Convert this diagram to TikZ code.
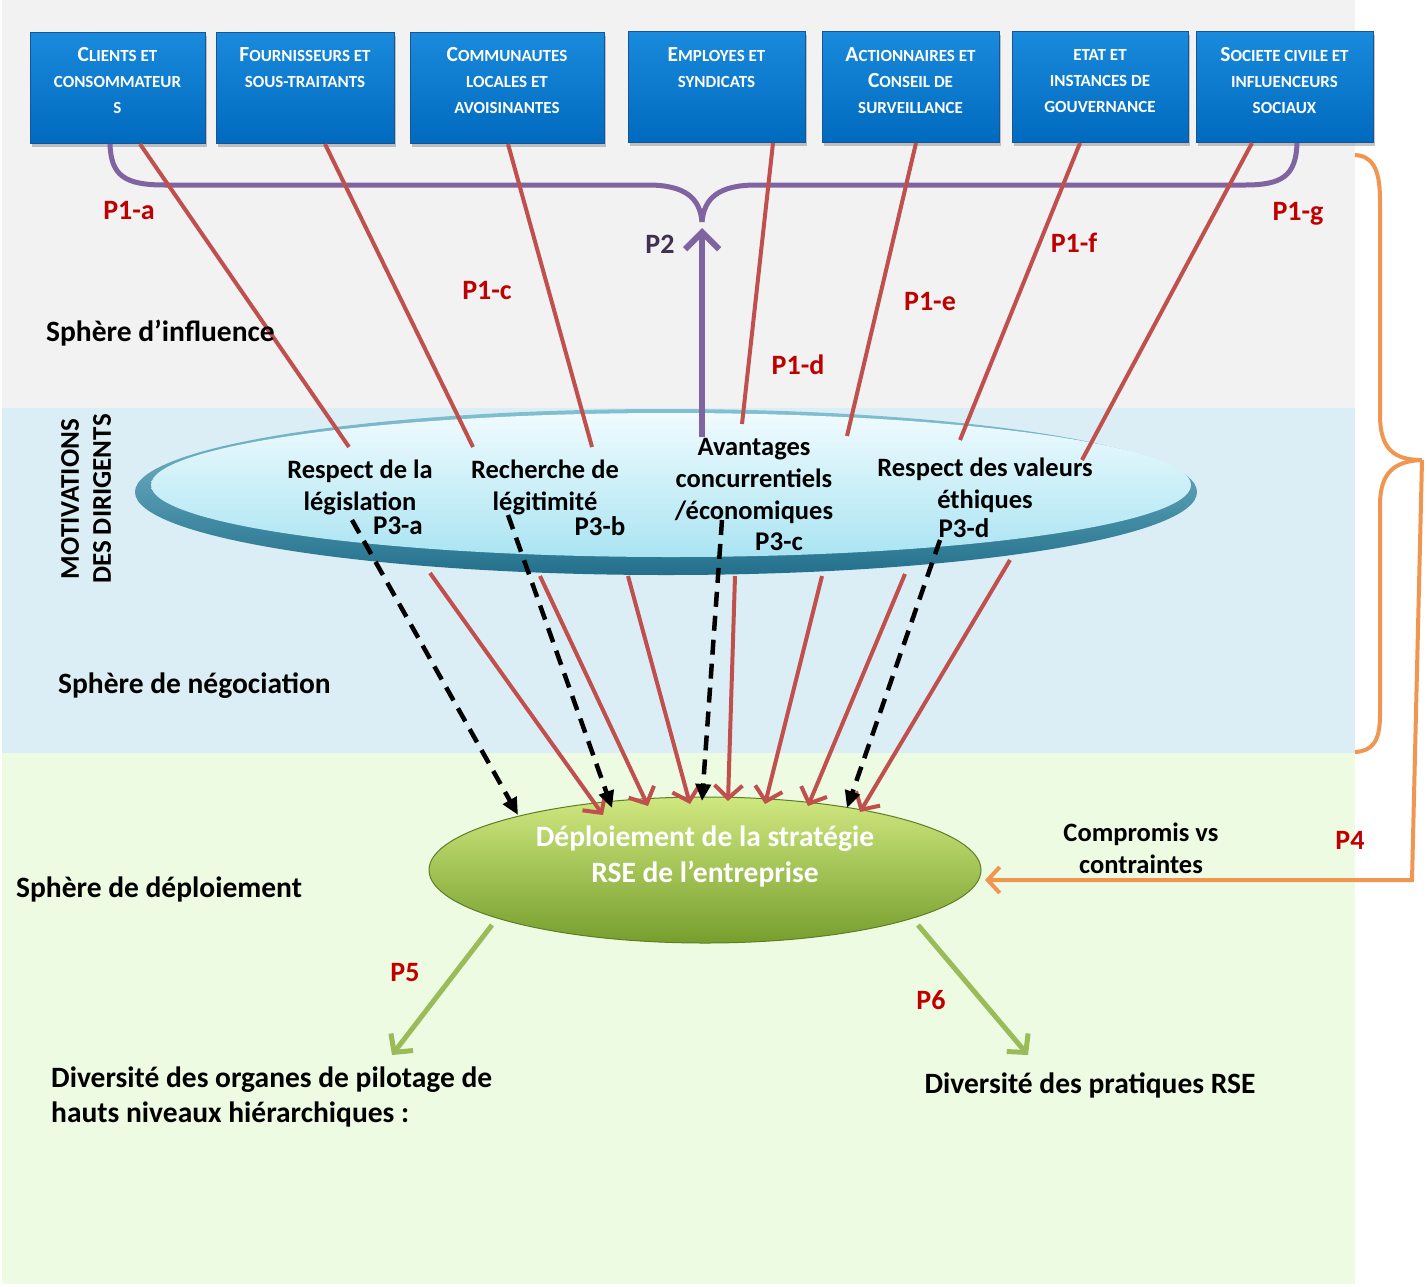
\documentclass[tikz,border=0pt]{standalone}
\usepackage{fontspec}
\setmainfont{Carlito}
\usetikzlibrary{arrows.meta,shapes.geometric,shadows,calc}
\definecolor{bggray}{RGB}{242,242,242}
\definecolor{bgblue}{RGB}{220,238,245}
\definecolor{bggreen}{RGB}{238,251,227}
\definecolor{boxtop}{RGB}{25,138,220}
\definecolor{boxbot}{RGB}{0,106,190}
\definecolor{boxedge}{RGB}{25,85,150}
\definecolor{redln}{RGB}{192,80,77}
\definecolor{plab}{RGB}{192,0,0}
\definecolor{purp}{RGB}{128,100,162}
\definecolor{darkpurp}{RGB}{64,49,82}
\definecolor{orng}{RGB}{240,150,80}
\definecolor{grn}{RGB}{155,187,89}
\definecolor{rimtop}{RGB}{130,192,210}
\definecolor{rimbot}{RGB}{35,112,140}
\definecolor{intop}{RGB}{240,251,254}
\definecolor{inbot}{RGB}{170,228,242}
\definecolor{eltop}{RGB}{208,232,128}
\definecolor{elmid}{RGB}{165,205,78}
\definecolor{elbot}{RGB}{118,158,45}
\newcommand\BigL[1]{{\fontsize{21.5}{26}\selectfont #1}}
\begin{document}
\begin{tikzpicture}[x=1pt,y=-1pt,
  bluebox/.style={rectangle, minimum width=#1, minimum height=111pt, top color=boxtop, bottom color=boxbot, draw=boxedge, line width=1pt, drop shadow={opacity=0.45, shadow xshift=2pt, shadow yshift=-3pt}},
  boxtxt/.style={text=white, align=center, font=\fontsize{17}{26}\selectfont\bfseries},
  lbl/.style={font=\fontsize{26.5}{32}\selectfont\bfseries, align=center, inner sep=0pt},
  biglbl/.style={font=\fontsize{29.5}{35}\selectfont\bfseries, align=center, inner sep=0pt},
  plbl/.style={font=\fontsize{28}{32}\selectfont\bfseries, text=plab, inner sep=0pt},
  blbl/.style={font=\fontsize{27}{32}\selectfont\bfseries, text=black, inner sep=0pt},
  redline/.style={draw=redln, line width=4pt},
  redarrow/.style={draw=redln, line width=4pt, -{Straight Barb[length=13pt,width=28pt]}},
  dasharrow/.style={draw=black, line width=4.5pt, dash pattern=on 15pt off 9pt, -{Triangle[length=17pt,width=15pt]}},
  greenarrow/.style={draw=grn, line width=5pt, -{Straight Barb[length=13pt,width=28pt]}},
  purpline/.style={draw=purp, line width=5pt},
  orline/.style={draw=orng, line width=4pt}
]
\useasboundingbox (0,0) rectangle (1427,1286);
\fill[white] (0,0) rectangle (1427,1286);
\fill[bggray] (2,0) rectangle (1355,408);
\fill[bgblue] (2,408) rectangle (1355,753);
\fill[bggreen] (2,753) rectangle (1355,1284);

% boxes
\node[bluebox=175pt] (b1) at (117.5,88) {};
\node[bluebox=178pt] (b2) at (305,88) {};
\node[bluebox=194pt] (b3) at (507,88) {};
\node[bluebox=177pt] (b4) at (716.5,87) {};
\node[bluebox=177pt] (b5) at (910.5,87) {};
\node[bluebox=176pt] (b6) at (1100,87) {};
\node[bluebox=177pt] (b7) at (1284.5,87) {};
\node[boxtxt] (t1) at ([yshift=7pt]b1.center) {\BigL{C}LIENTS ET\\CONSOMMATEUR\\S};
\node[boxtxt] (t2) at ([yshift=7pt]b2.center) {\BigL{F}OURNISSEURS ET\\SOUS-TRAITANTS\\\mbox{}};
\node[boxtxt] (t3) at ([yshift=7pt]b3.center) {\BigL{C}OMMUNAUTES\\LOCALES ET\\AVOISINANTES};
\node[boxtxt] (t4) at ([yshift=6pt]b4.center) {\BigL{E}MPLOYES ET\\SYNDICATS\\\mbox{}};
\node[boxtxt] (t5) at ([yshift=6pt]b5.center) {\BigL{A}CTIONNAIRES ET\\\BigL{C}ONSEIL DE\\SURVEILLANCE};
\node[boxtxt] (t6) at ([yshift=6pt]b6.center) {ETAT ET\\INSTANCES DE\\GOUVERNANCE};
\node[boxtxt] (t7) at ([yshift=6pt]b7.center) {\BigL{S}OCIETE CIVILE ET\\INFLUENCEURS\\SOCIAUX};

% ring
\node[ellipse, minimum width=1062pt, minimum height=166pt, top color=rimtop, bottom color=rimbot, draw=none] (ring) at (666,492) {};
\shade[top color=intop, bottom color=inbot] (671,485) ellipse [x radius=520, y radius=72];

% deploy ellipse
\node[ellipse, minimum width=552pt, minimum height=146pt, top color=eltop, middle color=elmid, bottom color=elbot, draw=elbot!80!black, line width=1pt] (deploy) at (705,870) {};
\node[font=\fontsize{29.5}{36}\selectfont\bfseries, text=white, align=center] (dtext) at ([yshift=14pt]deploy.center) {Déploiement de la stratégie\\RSE de l’entreprise};

% coordinates
\coordinate (e1) at (349,447);
\coordinate (e2) at (473,447);
\coordinate (e3) at (592,447);
\coordinate (e4) at (742,424);
\coordinate (e5) at (847,436);
\coordinate (e6) at (960,440);
\coordinate (e7) at (1082,460);
\coordinate (merge) at (702,222);
\coordinate (p2start) at (702,437);

% purple curves
\draw[purpline] ([xshift=-7.5pt]b1.south) .. controls (111,176) and (125,185) .. (165,185) -- (648,185) .. controls (685,185) and (700,198) .. (merge);
\draw[purpline] ([xshift=12.5pt]b7.south) .. controls (1296,176) and (1282,185) .. (1245,185) -- (756,185) .. controls (719,185) and (704,198) .. (merge);

% P1 lines
\draw[redline] ([xshift=22.5pt]b1.south) -- (e1);
\draw[redline] ([xshift=20pt]b2.south) -- (e2);
\draw[redline] ([xshift=1pt]b3.south) -- (e3);
\draw[redline] ([xshift=56.5pt]b4.south) -- (e4);
\draw[redline] ([xshift=5.5pt]b5.south) -- (e5);
\draw[redline] ([xshift=-20pt]b6.south) -- (e6);
\draw[redline] ([xshift=-32.5pt]b7.south) -- (e7);

% P2 arrow
\draw[purpline, line width=6pt, -{Straight Barb[length=17pt,width=34pt]}] (p2start) -- ([yshift=-6pt]merge);

% ring labels
\node[lbl] (m1) at (360,487) {Respect de la\\législation};
\node[lbl] (m2) at (545,487) {Recherche de\\légitimité};
\node[lbl] (m3) at (754,481) {Avantages\\concurrentiels\\/économiques};
\node[lbl] (m4) at (985,485) {Respect des valeurs\\éthiques};

% lower coordinates
\coordinate (d1s) at (352,520); \coordinate (d1e) at (518,815);
\coordinate (d2s) at (508,515); \coordinate (d2e) at (612,808);
\coordinate (d3s) at (722,520); \coordinate (d3e) at (702,801);
\coordinate (d4s) at (940,540); \coordinate (d4e) at (847,808);
\coordinate (r1s) at (430,573); \coordinate (r1e) at (603,815);
\coordinate (r2s) at (540,576); \coordinate (r2e) at (648,806);
\coordinate (r3s) at (628,576); \coordinate (r3e) at (690,804);
\coordinate (r4s) at (735,576); \coordinate (r4e) at (728,801);
\coordinate (r5s) at (822,576); \coordinate (r5e) at (765,804);
\coordinate (r6s) at (905,574); \coordinate (r6e) at (808,806);
\coordinate (r7s) at (1010,560); \coordinate (r7e) at (860,812);

\draw[redarrow] (r1s) -- (r1e);
\draw[redarrow] (r2s) -- (r2e);
\draw[redarrow] (r3s) -- (r3e);
\draw[redarrow] (r4s) -- (r4e);
\draw[redarrow] (r5s) -- (r5e);
\draw[redarrow] (r6s) -- (r6e);
\draw[redarrow] (r7s) -- (r7e);
\draw[dasharrow] (d1s) -- (d1e);
\draw[dasharrow] (d2s) -- (d2e);
\draw[dasharrow] (d3s) -- (d3e);
\draw[dasharrow] (d4s) -- (d4e);

% P labels
\node[plbl] (l1a) at (129,211) {P1-a};
\node[plbl] (l1c) at (487,291) {P1-c};
\node[plbl] (l1d) at (798,365) {P1-d};
\node[plbl] (l1e) at (930,302) {P1-e};
\node[plbl] (l1f) at (1074,243) {P1-f};
\node[plbl] (l1g) at (1298,214) {P1-g};
\node[font=\fontsize{28}{32}\selectfont\bfseries, text=darkpurp, inner sep=0pt] (l2) at (660,244) {P2};
\node[blbl] (l3a) at (398,526) {P3-a};
\node[blbl] (l3b) at (600,526) {P3-b};
\node[blbl] (l3c) at (779,542) {P3-c};
\node[blbl] (l3d) at (964,528) {P3-d};
\node[plbl] (l4) at (1350,840) {P4};
\node[plbl] (l5) at (405,973) {P5};
\node[plbl] (l6) at (931,1000) {P6};

% sphere labels
\node[biglbl, anchor=west] (s1) at (46,333) {Sphère d’influence};
\node[biglbl, anchor=west] (s2) at (58,686) {Sphère de négociation};
\node[biglbl, anchor=west] (s3) at (16,889) {Sphère de déploiement};
\node[font=\fontsize{27}{32}\selectfont\bfseries, align=center, inner sep=0pt, rotate=90] (mot) at (86,499) {MOTIVATIONS\\DES DIRIGENTS};

% orange brace and P4 arrow
\coordinate (brtop) at (1355,155);
\coordinate (brtip) at (1422,460);
\coordinate (brbot) at (1355,752);
\coordinate (p4c) at (1412,880);
\coordinate (p4e) at (985,880);
\draw[orline] (brtop) .. controls (1372,156) and (1380,168) .. (1380,200) -- (1380,415) .. controls (1380,450) and (1395,460) .. (brtip);
\draw[orline] (brtip) .. controls (1395,461) and (1380,472) .. (1380,505) -- (1380,715) .. controls (1380,742) and (1372,751) .. (brbot);
\draw[orline, -{Straight Barb[length=12pt,width=26pt]}] (brtip) -- (p4c) -- (p4e);
\node[lbl] (comp) at (1141,848) {Compromis vs\\contraintes};

% green arrows
\coordinate (g1s) at (492,925); \coordinate (g1e) at (392,1055);
\coordinate (g2s) at (918,925); \coordinate (g2e) at (1028,1055);
\draw[greenarrow] (g1s) -- (g1e);
\draw[greenarrow] (g2s) -- (g2e);

\node[biglbl, anchor=west, align=left] (div1) at (51,1097) {Diversité des organes de pilotage de\\hauts niveaux hiérarchiques :};
\node[biglbl] (div2) at (1090,1085) {Diversité des pratiques RSE};
\end{tikzpicture}
\end{document}
